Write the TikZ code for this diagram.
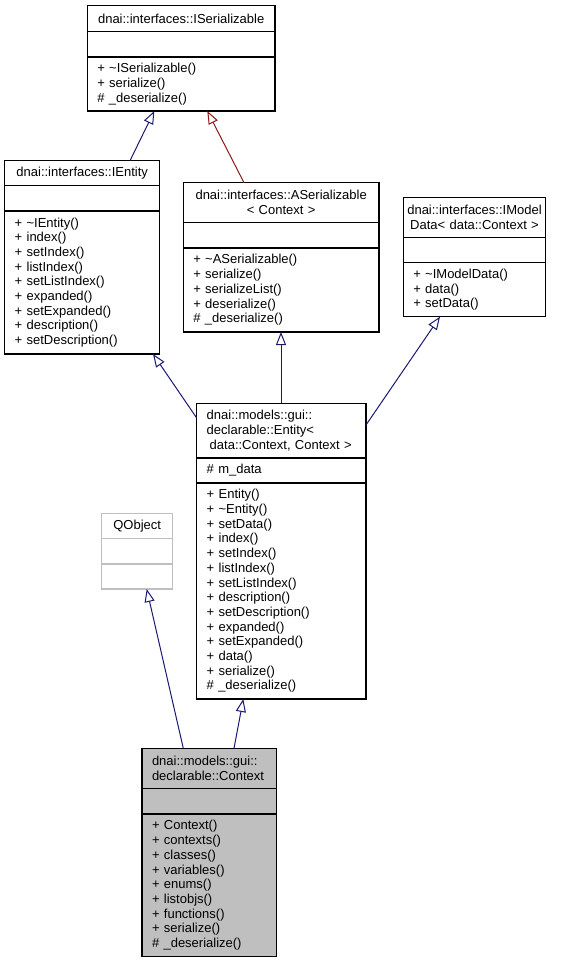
\documentclass[tikz,border=0pt]{standalone}
\usepackage{fontspec}
\setmainfont{Liberation Sans}
\usetikzlibrary{arrows.meta}
\definecolor{inhblue}{HTML}{191970}
\definecolor{inhred}{HTML}{8B1A1A}
\definecolor{extgray}{HTML}{BFBFBF}
\tikzstyle{inherit} = [draw=inhblue, line width=1pt, -{Triangle[open,length=13pt,width=10pt]}]
\tikzstyle{inheritred} = [inherit, draw=inhred]
\tikzstyle{box} = [draw, line width=1.2pt, outer sep=0pt, inner xsep=10pt, inner ysep=2pt, anchor=north west, align=left, font=\fontsize{13}{14.7}\selectfont]
\tikzstyle{ttl} = [box, align=center]

\begin{document}
\begin{tikzpicture}[x=1pt,y=-1pt]
  \useasboundingbox (0,0) rectangle (565,963);

  % interfaces
  \node[ttl, text width=167.7pt, minimum height=26pt] at (87.3,5.7) (iser) {dnai::interfaces::ISerializable};
  \node[box, text width=167.7pt, minimum height=25.3pt] at (iser.south west) (iser-a) {};
  \node[box, text width=167.7pt, minimum height=54pt] at (iser-a.south west) (iser-m) {+ \textasciitilde ISerializable()\\+ serialize()\\\# \_deserialize()};

  \node[ttl, text width=135pt, minimum height=25pt] at (4.7,160.7) (ient) {dnai::interfaces::IEntity};
  \node[box, text width=135pt, minimum height=25.3pt] at (ient.south west) (ient-a) {};
  \node[box, text width=135pt, minimum height=143pt] at (ient-a.south west) (ient-m) {+ \textasciitilde IEntity()\\+ index()\\+ setIndex()\\+ listIndex()\\+ setListIndex()\\+ expanded()\\+ setExpanded()\\+ description()\\+ setDescription()};

  \node[ttl, text width=175.7pt, minimum height=39.6pt] at (183.3,182.7) (aser) {dnai::interfaces::ASerializable\\{}< Context >};
  \node[box, text width=175.7pt, minimum height=25.7pt] at (aser.south west) (aser-a) {};
  \node[box, text width=175.7pt, minimum height=84pt] at (aser-a.south west) (aser-m) {+ \textasciitilde ASerializable()\\+ serialize()\\+ serializeList()\\+ deserialize()\\\# \_deserialize()};

  \node[ttl, inner xsep=3pt, text width=136.4pt, minimum height=40pt] at (403.3,197.3) (imod) {dnai::interfaces::IModel\\Data< data::Context >};
  \node[box, text width=122.4pt, minimum height=25.4pt] at (imod.south west) (imod-a) {};
  \node[box, text width=122.4pt, minimum height=54pt] at (imod-a.south west) (imod-m) {+ \textasciitilde IModelData()\\+ data()\\+ setData()};

  % models
  \node[box, text width=149.3pt, minimum height=54.7pt] at (196.7,403.3) (ent) {dnai::models::gui::\\declarable::Entity<\\\hspace*{3pt}data::Context, Context >};
  \node[box, text width=149.3pt, minimum height=25pt] at (ent.south west) (ent-a) {\# m\_data};
  \node[box, text width=149.3pt, minimum height=216pt] at (ent-a.south west) (ent-m) {+ Entity()\\+ \textasciitilde Entity()\\+ setData()\\+ index()\\+ setIndex()\\+ listIndex()\\+ setListIndex()\\+ description()\\+ setDescription()\\+ expanded()\\+ setExpanded()\\+ data()\\+ serialize()\\\# \_deserialize()};

  \node[ttl, draw=extgray, text width=51pt, minimum height=25pt] at (101.7,513.3) (qobj) {QObject};
  \node[box, draw=extgray, text width=51pt, minimum height=25.7pt] at (qobj.south west) (qobj-a) {};
  \node[box, draw=extgray, text width=51pt, minimum height=25pt] at (qobj-a.south west) (qobj-m) {};

  \node[box, fill=extgray, text width=114.7pt, minimum height=40.4pt] at (142,748.3) (ctx) {dnai::models::gui::\\declarable::Context};
  \node[box, fill=extgray, text width=114.7pt, minimum height=25.3pt] at (ctx.south west) (ctx-a) {};
  \node[box, fill=extgray, text width=114.7pt, minimum height=142.7pt] at (ctx-a.south west) (ctx-m) {+ Context()\\+ contexts()\\+ classes()\\+ variables()\\+ enums()\\+ listobjs()\\+ functions()\\+ serialize()\\\# \_deserialize()};

  % inheritance
  \draw[inherit] ([xshift=125.3pt]ient.north west) -- ([xshift=67pt]iser-m.south west);
  \draw[inheritred] ([xshift=60.7pt]aser.north west) -- ([xshift=120pt]iser-m.south west);
  \draw[inherit] ([yshift=-14.7pt]ent.north west) -- ([xshift=148.3pt]ient-m.south west);
  \draw[inherit] ([xshift=84.3pt]ent.north west) -- ([xshift=97.7pt]aser-m.south west);
  \draw[inherit] ([yshift=-21.7pt]ent.north east) -- ([xshift=36.7pt]imod-m.south west);
  \draw[inherit] ([xshift=41.3pt]ctx.north west) -- ([xshift=45pt]qobj-m.south west);
  \draw[inherit] ([xshift=92pt]ctx.north west) -- ([xshift=46.6pt]ent-m.south west);
\end{tikzpicture}
\end{document}
